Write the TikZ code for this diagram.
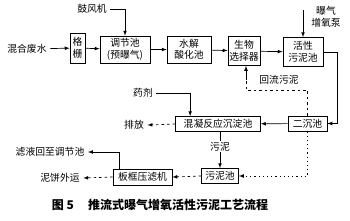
\documentclass[tikz,border=0pt]{standalone}
\usepackage{fontspec}
\setmainfont{Noto Sans CJK SC}
\usepackage{tikz}

\begin{document}
\begin{tikzpicture}[x=1pt,y=-1pt,>=latex,line width=0.7pt,
  font=\fontsize{9.8}{11.5}\selectfont,
  box/.style={draw,inner sep=1pt,align=center},
  dline/.style={dash pattern=on 2.5pt off 3pt},
  dotline/.style={dash pattern=on 1.2pt off 3pt}]
\useasboundingbox (0,0) rectangle (350,220);
% top row
\node (mix) at (27,49) {混合废水};
\node[box,minimum width=15,minimum height=30] (gs) at (77.5,48) {格\\栅};
\node[box,minimum width=50,minimum height=27] (tjc) at (125,49.5) {调节池\\(预曝气)};
\node[box,minimum width=44,minimum height=27] (sj) at (189,49.5) {水解\\酸化池};
\node[box,minimum width=32,minimum height=29] (sw) at (244,51) {生物\\选择器};
\node[box,minimum width=40,minimum height=29] (hx) at (303,52) {活性\\污泥池};
\node (fan) at (92,9) {鼓风机};
\node[align=center] (aer) at (326,17) {曝气\\增氧泵};
\coordinate (aerin) at (303,10);
\draw[->] (mix) -- (gs);
\draw[->] (gs) -- (tjc);
\draw[->] (fan) -| (tjc.north);
\draw[->] (tjc) -- (sj);
\draw[->] (sj) -- (sw);
\draw[->] (sw) -- (hx);
\draw[->] (aerin) -- (hx.north);
% middle row
\node[box,minimum width=39,minimum height=15] (ecc) at (307.5,123.5) {二沉池};
\node[box,minimum width=85,minimum height=15] (hn) at (218,124) {混凝反应沉淀池};
\node (yj) at (143,93) {药剂};
\node (pf) at (134,125) {排放};
\node (hl) at (279,80) {回流污泥};
\coordinate (ret) at (246,90);
\coordinate (retup) at (246,80);
\draw[->] (hx.east) -- ++(14,0) |- (ecc.east);
\draw[->] (ecc) -- (hn);
\draw[->] (yj.east) -| ([xshift=15pt]hn.north west);
\draw[->,dline] (hn.west) -- (pf.east);
\draw[dline] (ecc.north) |- (ret) -- (retup);
\draw[->] (retup) -- (retup |- sw.south);
% bottom row
\node[box,minimum width=37,minimum height=15] (wnc) at (220,176) {污泥池};
\node[box,minimum width=59,minimum height=16] (bk) at (142.5,177) {板框压滤机};
\node (nb) at (60,178) {泥饼外运};
\node (lv) at (50,152) {滤液回至调节池};
\draw[->] (hn.south -| wnc.north) -- node[pos=0.4,fill=white,inner sep=1pt] (wn) {污泥} (wnc.north);
\draw[->,dotline] (ecc.south) |- (wnc.east);
\draw[->,dline] (wnc.west) -- (bk.east);
\draw[->,dline] (bk.west) -- (nb.east);
\draw[->] ([xshift=7pt]bk.north west) |- (lv.east);
% caption
\node[font=\fontsize{12}{14}\selectfont\bfseries] (cap) at (160,205) {图 5\hspace{1.2em}推流式曝气增氧活性污泥工艺流程};
\end{tikzpicture}
\end{document}
